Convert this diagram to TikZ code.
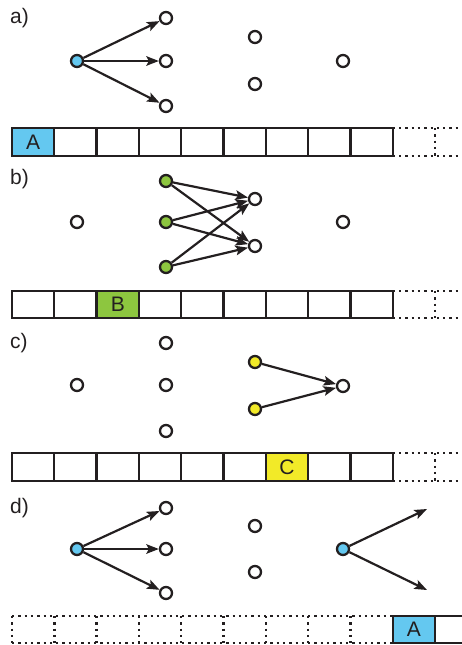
\documentclass[tikz,border=0pt]{standalone}
\usepackage{fontspec}
\setmainfont{Liberation Sans}
\usetikzlibrary{arrows.meta}
\definecolor{ink}{RGB}{35,31,32}
\definecolor{skyblue}{RGB}{100,200,240}
\definecolor{leaf}{RGB}{141,198,63}
\definecolor{lemon}{RGB}{242,234,40}
\tikzset{
  vert/.style={circle,draw=ink,line width=2.3pt,fill=white,minimum size=12pt,inner sep=0pt},
  arr/.style={draw=ink,line width=2.2pt,-{Stealth[length=12.5pt,width=9.5pt,inset=2.5pt]}},
  cell/.style={draw=ink,line width=2.3pt},
  dotcell/.style={draw=ink,line width=2.5pt,dash pattern=on 2.3pt off 4pt},
  lbl/.style={anchor=west,inner sep=0pt,font=\fontsize{21}{24}\selectfont,text=ink},
  celltext/.style={inner sep=0pt,font=\fontsize{21}{24}\selectfont,text=ink}
}
\begin{document}
\begin{tikzpicture}[x=1pt,y=-1pt]
\useasboundingbox (0,0) rectangle (462,645);
\clip (0,0) rectangle (462,645);

% ---------- a) ----------
\node[lbl] (la) at (10,18) {a)};
\node[vert,fill=skyblue] (a0) at (77,61) {};
\node[vert] (a1) at (166,18) {};
\node[vert] (a2) at (166,61) {};
\node[vert] (a3) at (166,106) {};
\node[vert] (a4) at (255,37) {};
\node[vert] (a5) at (255,84) {};
\node[vert] (a6) at (343,61) {};
\foreach \t in {a1,a2,a3} \draw[arr] (a0) -- (\t);

\fill[skyblue] (12,128) rectangle (54.3,156);
\foreach \i in {0,...,8} \draw[cell] ({12+42.3*\i},128) rectangle ({12+42.3*(\i+1)},156);
\node[celltext] (ca) at (33.2,142) {A};
\draw[dotcell] (392.7,128) -- (470,128);
\draw[dotcell] (392.7,156) -- (470,156);
\draw[dotcell] (435,128) -- (435,156);

% ---------- b) ----------
\node[lbl] (lb) at (10,179) {b)};
\node[vert] (b0) at (77,222) {};
\node[vert,fill=leaf] (b1) at (166,181) {};
\node[vert,fill=leaf] (b2) at (166,222) {};
\node[vert,fill=leaf] (b3) at (166,267) {};
\node[vert] (b4) at (255,199) {};
\node[vert] (b5) at (255,246) {};
\node[vert] (b6) at (343,222) {};
\foreach \s in {b1,b2,b3} {
  \draw[arr] (\s) -- (b4);
  \draw[arr] (\s) -- (b5);
}

\fill[leaf] (96.6,291) rectangle (138.9,318);
\foreach \i in {0,...,8} \draw[cell] ({12+42.3*\i},291) rectangle ({12+42.3*(\i+1)},318);
\node[celltext] (cb) at (117.8,304.5) {B};
\draw[dotcell] (392.7,291) -- (470,291);
\draw[dotcell] (392.7,318) -- (470,318);
\draw[dotcell] (435,291) -- (435,318);

% ---------- c) ----------
\node[lbl] (lc) at (10,343) {c)};
\node[vert] (c0) at (77,385) {};
\node[vert] (c1) at (166,343) {};
\node[vert] (c2) at (166,385) {};
\node[vert] (c3) at (166,431) {};
\node[vert,fill=lemon] (c4) at (255,362) {};
\node[vert,fill=lemon] (c5) at (255,409) {};
\node[vert] (c6) at (343,386) {};
\draw[arr] (c4) -- (c6);
\draw[arr] (c5) -- (c6);

\fill[lemon] (265.8,453) rectangle (308.1,481);
\foreach \i in {0,...,8} \draw[cell] ({12+42.3*\i},453) rectangle ({12+42.3*(\i+1)},481);
\node[celltext] (cc) at (287,467) {C};
\draw[dotcell] (392.7,453) -- (470,453);
\draw[dotcell] (392.7,481) -- (470,481);
\draw[dotcell] (435,453) -- (435,481);

% ---------- d) ----------
\node[lbl] (ld) at (10,508) {d)};
\node[vert,fill=skyblue] (d0) at (77,549) {};
\node[vert] (d1) at (166,508) {};
\node[vert] (d2) at (166,549) {};
\node[vert] (d3) at (166,593) {};
\node[vert] (d4) at (255,526) {};
\node[vert] (d5) at (255,572) {};
\node[vert,fill=skyblue] (d6) at (343,549) {};
\coordinate (e1) at (427,509);
\coordinate (e2) at (427,590);
\foreach \t in {d1,d2,d3} \draw[arr] (d0) -- (\t);
\draw[arr] (d6) -- (e1);
\draw[arr] (d6) -- (e2);

\draw[dotcell] (12,616) -- (392.7,616);
\draw[dotcell] (12,643) -- (392.7,643);
\foreach \i in {0,...,8} \draw[dotcell] ({12+42.3*\i},616) -- ({12+42.3*\i},643);
\fill[skyblue] (392.7,616) rectangle (435,643);
\draw[cell] (392.7,616) rectangle (435,643);
\draw[cell] (435,616) -- (470,616);
\draw[cell] (435,643) -- (470,643);
\node[celltext] (cd) at (413.8,629.5) {A};
\end{tikzpicture}
\end{document}
